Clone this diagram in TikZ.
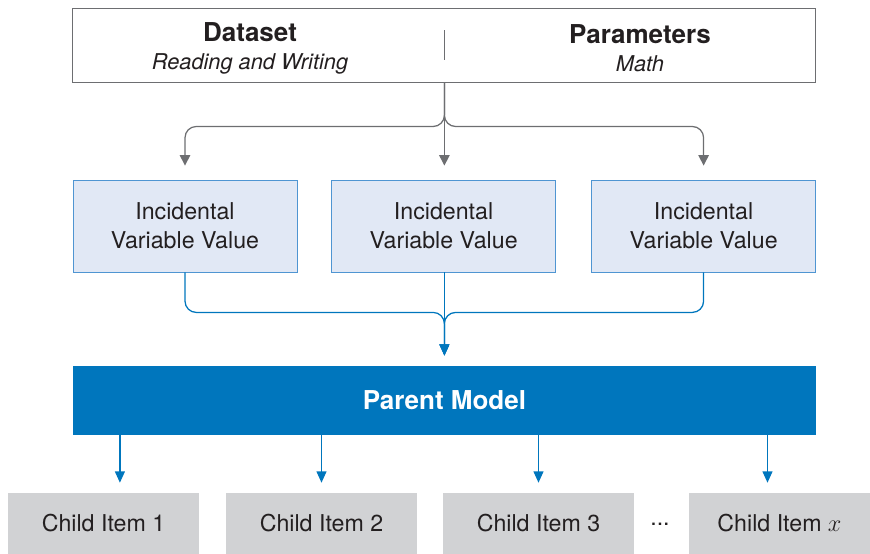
\documentclass[tikz,border=0pt]{standalone}
\usepackage{fontspec}
\setmainfont{TeX Gyre Heros}
\usepackage{tikz}
\usetikzlibrary{arrows,positioning,shapes,calc,arrows.meta}
\usepackage{xcolor}
\definecolor{linegray}{HTML}{6D6E71}
\definecolor{boxgray}{HTML}{D1D2D4}
\definecolor{ivfill}{HTML}{E1E8F5}
\definecolor{ivdraw}{HTML}{4F95D2}
\definecolor{parentblue}{HTML}{0076BD}
\definecolor{textdark}{HTML}{231F20}

\begin{document}
\begin{tikzpicture}[
    srcbox/.style={draw=linegray,line width=0.7pt,fill=white,rectangle,minimum width=18.575cm,minimum height=1.85cm},
    head/.style={align=center,text=textdark,font=\fontsize{18.5}{21}\selectfont\bfseries},
    ivbox/.style={draw=ivdraw,line width=0.6pt,fill=ivfill,rectangle,minimum width=5.6cm,minimum height=2.3cm,align=center,text=textdark,font=\fontsize{16.5}{20.5}\selectfont},
    parentbox/.style={fill=parentblue,rectangle,minimum width=18.575cm,minimum height=1.725cm,text=white,font=\fontsize{18.5}{22}\selectfont\bfseries},
    childbox/.style={fill=boxgray,rectangle,minimum width=4.775cm,minimum height=1.525cm,text=textdark,font=\fontsize{16.5}{20}\selectfont},
    garrow/.style={draw=linegray,line width=0.9pt,-{Triangle[width=7.5pt,length=7.5pt]},rounded corners=8pt,shorten >=0.35cm},
    barrow/.style={draw=parentblue,line width=0.9pt,-{Triangle[width=7pt,length=8pt]},rounded corners=8pt,shorten >=0.25cm}
  ]
    \useasboundingbox (0,0) rectangle (21.75,-13.85);

    % Source box: dataset and parameters
    \node[srcbox] (src) at (11.11,-1.125) {};
    \node[head] (dataset) at (6.25,-1.2) {Dataset\\[-1pt]{\fontsize{15.5}{18}\selectfont\mdseries\itshape Reading and Writing}};
    \node[head] (params) at (16.0,-1.2) {Parameters\\[-1pt]{\fontsize{15.5}{18}\selectfont\mdseries\itshape Math}};
    \draw[linegray,line width=0.7pt] ([yshift=0.375cm]src.center) -- ([yshift=-0.375cm]src.center);

    % Incidental variable values
    \node[ivbox] (iv1) at (4.625,-5.65) {Incidental\\Variable Value};
    \node[ivbox] (iv2) at (11.09,-5.65) {Incidental\\Variable Value};
    \node[ivbox] (iv3) at (17.59,-5.65) {Incidental\\Variable Value};

    % Parent model
    \node[parentbox] (parent) at (11.11,-10.01) {Parent Model};

    % Child items
    \node[childbox] (c1) at (2.5875,-13.0875) {Child Item 1};
    \node[childbox] (c2) at (8.0375,-13.0875) {Child Item 2};
    \node[childbox] (c3) at (13.4625,-13.0875) {Child Item 3};
    \node[childbox,minimum width=4.525cm] (c4) at (19.4875,-13.0875) {Child Item $x$};
    \node[text=textdark,font=\fontsize{16.5}{20}\selectfont] (dots) at (16.5,-13.1) {...};

    % Source to incidental values
    \draw[garrow] (src.south) -- ++(0,-1.1) -| (iv1.north);
    \draw[garrow] (src.south) -- ++(0,-1.1) -| (iv3.north);
    \draw[garrow] (src.south) -- (src.south |- iv2.north);

    % Incidental values to parent
    \draw[barrow] (iv1.south) -- ++(0,-1) -| (parent.north);
    \draw[barrow] (iv3.south) -- ++(0,-1) -| (parent.north);
    \draw[barrow] (iv2.south -| parent.north) -- (parent.north);

    % Parent to children
    \draw[barrow] ([xshift=0.41cm]c1.north |- parent.south) -- ([xshift=0.41cm]c1.north);
    \draw[barrow] (c2.north |- parent.south) -- (c2.north);
    \draw[barrow] (c3.north |- parent.south) -- (c3.north);
    \draw[barrow] ([xshift=-0.3cm]c4.north |- parent.south) -- ([xshift=-0.3cm]c4.north);
  \end{tikzpicture}
\end{document}
